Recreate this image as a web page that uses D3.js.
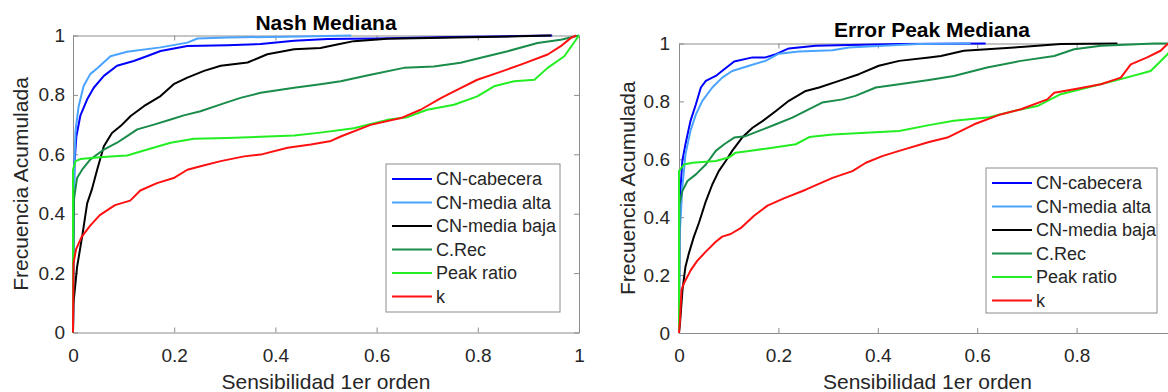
<!DOCTYPE html>
<html>
<head>
<meta charset="utf-8">
<script src="https://cdn.jsdelivr.net/npm/d3@7"></script>
<style>
  body { margin: 0; background: white; }
  text { font-family: "Liberation Sans", Arial, sans-serif; fill: #262626; }
</style>
</head>
<body>
<script>
// Data
let seriesNames = ['CN-cabecera', 'CN-media alta', 'CN-media baja', 'C.Rec', 'Peak ratio', 'k'];
let seriesColors = ['#0000ff', '#4aa3ff', '#000000', '#1a8c4a', '#22ee22', '#ff1010'];
let tickValues = [0, 0.2, 0.4, 0.6, 0.8, 1];
let tickLabels = ['0', '0.2', '0.4', '0.6', '0.8', '1'];

// Nash Mediana
let nashCab = [[0,0],[0.001,0.4],[0.003,0.57],[0.0066,0.66],[0.0145,0.73],[0.028,0.785],[0.041,0.824],[0.061,0.864],[0.087,0.898],[0.12,0.914],[0.147,0.931],[0.173,0.948],[0.226,0.965],[0.305,0.967],[0.371,0.971],[0.437,0.982],[0.503,0.988],[0.6,0.99],[0.75,0.995],[0.88,0.998],[0.947,1]];
let nashAlta = [[0,0],[0.001,0.35],[0.003,0.58],[0.005,0.68],[0.011,0.76],[0.021,0.83],[0.034,0.87],[0.048,0.89],[0.074,0.93],[0.107,0.945],[0.173,0.96],[0.226,0.976],[0.246,0.99],[0.305,0.993],[0.45,0.997],[0.55,1]];
let nashBaja = [[0,0],[0.001,0.1],[0.008,0.22],[0.019,0.333],[0.028,0.435],[0.037,0.48],[0.048,0.55],[0.061,0.627],[0.077,0.672],[0.094,0.695],[0.114,0.729],[0.14,0.762],[0.173,0.796],[0.199,0.836],[0.226,0.858],[0.259,0.881],[0.292,0.898],[0.345,0.909],[0.384,0.937],[0.437,0.954],[0.489,0.958],[0.522,0.97],[0.555,0.981],[0.621,0.989],[0.839,0.996],[0.945,1]];
let nashRec = [[0,0],[0.001,0.3],[0.002,0.45],[0.008,0.52],[0.018,0.548],[0.034,0.582],[0.061,0.616],[0.087,0.639],[0.107,0.661],[0.127,0.684],[0.16,0.7],[0.193,0.717],[0.219,0.731],[0.252,0.745],[0.292,0.768],[0.331,0.79],[0.371,0.807],[0.437,0.824],[0.489,0.836],[0.529,0.846],[0.588,0.868],[0.654,0.891],[0.713,0.896],[0.766,0.908],[0.806,0.925],[0.859,0.947],[0.918,0.975],[0.964,0.986],[1,1]];
let nashPeak = [[0,0],[0,0.548],[0.005,0.577],[0.0145,0.584],[0.041,0.588],[0.074,0.593],[0.107,0.596],[0.147,0.616],[0.193,0.639],[0.239,0.652],[0.305,0.655],[0.371,0.659],[0.437,0.663],[0.489,0.673],[0.555,0.688],[0.621,0.716],[0.661,0.725],[0.7,0.75],[0.753,0.767],[0.799,0.795],[0.832,0.829],[0.872,0.846],[0.912,0.851],[0.938,0.891],[0.971,0.93],[1,1]];
let nashK = [[0,0],[0.001,0.233],[0.006,0.28],[0.017,0.322],[0.034,0.36],[0.053,0.395],[0.083,0.429],[0.113,0.444],[0.133,0.478],[0.166,0.503],[0.199,0.52],[0.226,0.548],[0.252,0.56],[0.292,0.577],[0.338,0.593],[0.371,0.599],[0.424,0.622],[0.47,0.633],[0.51,0.645],[0.529,0.66],[0.588,0.699],[0.648,0.722],[0.687,0.75],[0.727,0.789],[0.76,0.818],[0.799,0.851],[0.839,0.874],[0.885,0.902],[0.938,0.936],[0.964,0.964],[0.984,0.992],[0.994,1]];

// Error Peak Mediana
let epCab = [[0,0],[0.001,0.444],[0.0067,0.594],[0.013,0.652],[0.023,0.732],[0.034,0.79],[0.044,0.848],[0.054,0.871],[0.074,0.888],[0.091,0.911],[0.111,0.938],[0.148,0.952],[0.174,0.952],[0.195,0.963],[0.221,0.983],[0.275,0.992],[0.342,0.995],[0.443,0.998],[0.617,1]];
let epAlta = [[0,0],[0.001,0.33],[0.0067,0.502],[0.013,0.617],[0.023,0.698],[0.034,0.755],[0.047,0.802],[0.067,0.848],[0.087,0.882],[0.107,0.905],[0.141,0.923],[0.174,0.94],[0.201,0.965],[0.241,0.972],[0.309,0.977],[0.342,0.986],[0.409,0.992],[0.483,0.998],[0.587,1]];
let epBaja = [[0,0],[0.002,0.034],[0.007,0.149],[0.013,0.229],[0.02,0.276],[0.03,0.333],[0.04,0.38],[0.054,0.455],[0.067,0.513],[0.08,0.559],[0.094,0.594],[0.107,0.629],[0.127,0.675],[0.148,0.709],[0.168,0.732],[0.195,0.767],[0.221,0.802],[0.255,0.836],[0.282,0.848],[0.322,0.871],[0.362,0.894],[0.402,0.923],[0.443,0.94],[0.503,0.952],[0.527,0.957],[0.573,0.975],[0.62,0.98],[0.688,0.988],[0.768,0.998],[0.882,1]];
let epRec = [[0,0],[0.001,0.444],[0.0067,0.49],[0.017,0.525],[0.034,0.548],[0.054,0.582],[0.074,0.629],[0.091,0.652],[0.111,0.675],[0.134,0.68],[0.161,0.698],[0.195,0.721],[0.228,0.744],[0.262,0.773],[0.288,0.796],[0.329,0.807],[0.355,0.819],[0.396,0.848],[0.443,0.859],[0.503,0.874],[0.553,0.888],[0.62,0.917],[0.688,0.94],[0.755,0.957],[0.795,0.98],[0.849,0.992],[0.956,1],[1,1]];
let epPeak = [[0,0],[0,0.559],[0.01,0.582],[0.027,0.588],[0.074,0.594],[0.1,0.606],[0.114,0.623],[0.141,0.629],[0.188,0.64],[0.235,0.652],[0.262,0.677],[0.309,0.686],[0.376,0.692],[0.443,0.698],[0.503,0.718],[0.553,0.733],[0.62,0.744],[0.674,0.767],[0.721,0.784],[0.768,0.825],[0.822,0.848],[0.889,0.877],[0.949,0.905],[0.983,0.963],[1,1]];
let epK = [[0,0],[0.002,0.045],[0.005,0.149],[0.01,0.172],[0.024,0.218],[0.037,0.25],[0.054,0.281],[0.074,0.315],[0.087,0.333],[0.104,0.342],[0.124,0.362],[0.151,0.405],[0.178,0.44],[0.211,0.465],[0.255,0.495],[0.309,0.536],[0.349,0.559],[0.376,0.588],[0.409,0.611],[0.443,0.629],[0.503,0.66],[0.54,0.675],[0.594,0.721],[0.647,0.755],[0.688,0.773],[0.741,0.807],[0.755,0.83],[0.795,0.842],[0.849,0.859],[0.889,0.882],[0.909,0.928],[0.942,0.952],[0.969,0.975],[0.983,0.998],[1,1]];

let width = 1168, height = 392;

let svg = d3.select('body')
  .append('svg')
  .attr('width', width)
  .attr('height', height)
  .style('background', 'white');

// Panel layout (the right panel runs past the edge of the picture)
let panels = [
  { title: 'Nash Mediana', series: [nashCab, nashAlta, nashBaja, nashRec, nashPeak, nashK],
    left: 73, right: 579, top: 35.5, bottom: 332.5, titleY: 30, ylabX: 28, ypad: 8, xticks: 6,
    legend: { x: 386, y: 164, w: 174, h: 148 } },
  { title: 'Error Peak Mediana', series: [epCab, epAlta, epBaja, epRec, epPeak, epK],
    left: 679, right: 1176, top: 43.5, bottom: 333, titleY: 37, ylabX: 635, ypad: 9, xticks: 5,
    legend: { x: 986, y: 168, w: 171, h: 145 } }
];

let axisColor = '#8c8c8c';

panels.forEach(p => {
  let x = d3.scaleLinear().domain([0, 1]).range([p.left, p.right]);
  let y = d3.scaleLinear().domain([0, 1]).range([p.bottom, p.top]);
  let fmt = (d, i) => tickLabels[i];
  let xTickValues = tickValues.slice(0, p.xticks);

  let g = svg.append('g');

  // box with inward ticks on all sides
  let xb = g.append('g')
    .attr('transform', `translate(0,${p.bottom})`)
    .call(d3.axisBottom(x).tickValues(xTickValues).tickFormat(fmt).tickSizeInner(-5).tickSizeOuter(0).tickPadding(16));
  let xt = g.append('g')
    .attr('transform', `translate(0,${p.top})`)
    .call(d3.axisTop(x).tickValues(xTickValues).tickFormat('').tickSizeInner(-5).tickSizeOuter(0));
  let yl = g.append('g')
    .attr('transform', `translate(${p.left},0)`)
    .call(d3.axisLeft(y).tickValues(tickValues).tickFormat(fmt).tickSizeInner(-5).tickSizeOuter(0).tickPadding(p.ypad));
  let yr = g.append('g')
    .attr('transform', `translate(${p.right},0)`)
    .call(d3.axisRight(y).tickValues(tickValues).tickFormat('').tickSizeInner(-5).tickSizeOuter(0));

  [xb, xt, yl, yr].forEach(a => {
    a.selectAll('path, line').attr('stroke', axisColor);
    a.selectAll('text').style('font-size', '19px').style('fill', '#262626');
  });

  // curves
  let line = d3.line().x(d => x(d[0])).y(d => y(d[1]));
  p.series.forEach((s, i) => {
    g.append('path')
      .datum(s)
      .attr('d', line)
      .attr('fill', 'none')
      .attr('stroke', seriesColors[i])
      .attr('stroke-width', 2)
      .attr('stroke-linejoin', 'round');
  });

  // title
  g.append('text')
    .attr('x', 326 + (p.left - 73))
    .attr('y', p.titleY)
    .attr('text-anchor', 'middle')
    .style('font-size', '21px')
    .style('font-weight', 'bold')
    .style('fill', '#000')
    .text(p.title);

  // axis labels
  g.append('text')
    .attr('x', (p.left + p.right) / 2)
    .attr('y', 389)
    .attr('text-anchor', 'middle')
    .style('font-size', '21px')
    .text('Sensibilidad 1er orden');

  g.append('text')
    .attr('transform', `translate(${p.ylabX},${(p.top + p.bottom) / 2}) rotate(-90)`)
    .attr('text-anchor', 'middle')
    .style('font-size', '21px')
    .text('Frecuencia Acumulada');

  // legend
  let L = p.legend;
  let lg = g.append('g').attr('transform', `translate(${L.x},${L.y})`);
  lg.append('rect')
    .attr('width', L.w).attr('height', L.h)
    .attr('fill', 'white').attr('stroke', axisColor);
  seriesNames.forEach((name, i) => {
    let ly = 15 + i * 23.5;
    lg.append('line')
      .attr('x1', 6).attr('x2', 46).attr('y1', ly).attr('y2', ly)
      .attr('stroke', seriesColors[i]).attr('stroke-width', 2);
    lg.append('text')
      .attr('x', 50).attr('y', ly)
      .attr('dy', '0.35em')
      .style('font-size', '18px')
      .text(name);
  });
});
</script>
</body>
</html>
